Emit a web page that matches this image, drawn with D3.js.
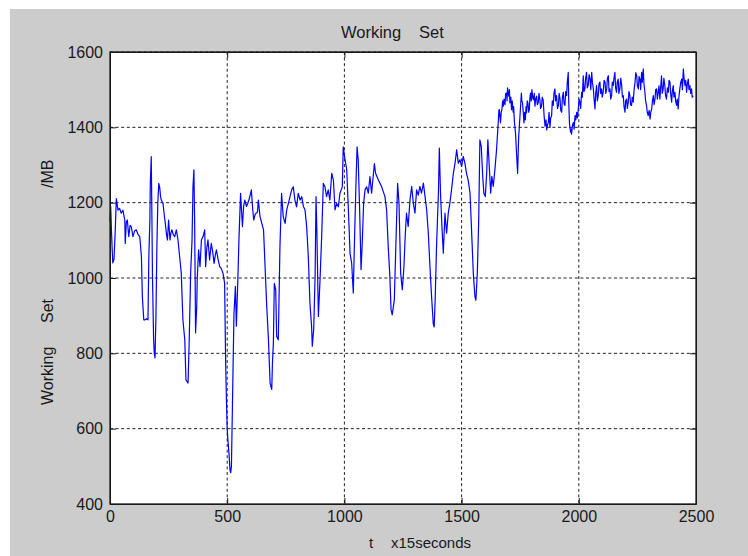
<!DOCTYPE html>
<html>
<head>
<meta charset="utf-8" />
<title>Working Set</title>
<script src="https://cdnjs.cloudflare.com/ajax/libs/d3/7.8.5/d3.min.js"></script>
<style>
  body { margin: 0; background: #ffffff; }
  text { font-family: "Liberation Sans", Arial, sans-serif; fill: #1a1a1a; }
  .axis path, .axis line { stroke: #1a1a1a; }
  .axis text { font-size: 16px; fill: #1a1a1a; font-family: "Liberation Sans", Arial, sans-serif; }
  .grid line { stroke: #222; stroke-dasharray: 3,2.6; stroke-width: 1; }
</style>
</head>
<body>
<div id="chart"></div>
<script>
// sample index (x15 seconds), first part: t = 0 .. 1649
var tEarly = [
  0,3,6,9,12,17,22,27,34,41,48,55,63,65,70,74,80,86,91,98,105,112,120,127,134,138,144,150,156,162,
  166,170,172,176,179,181,186,189,192,196,200,204,208,212,216,219,226,231,236,240,245,250,256,260,264,270,276,283,290,297,
  304,311,319,324,329,333,338,344,350,354,358,361,363,365,370,372,378,384,390,397,404,408,413,418,425,432,438,444,449,454,
  461,468,475,482,489,493,496,500,503,508,512,515,518,523,526,529,535,539,545,550,557,561,565,570,575,582,589,596,603,608,
  613,620,629,633,640,655,661,668,676,683,690,693,697,701,707,711,718,725,732,739,747,754,761,775,782,789,796,803,811,818,
  825,832,839,846,853,860,863,869,875,879,883,889,896,903,910,917,924,931,938,946,953,960,967,974,981,991,995,1003,1010,1017,
  1024,1031,1038,1042,1049,1054,1059,1065,1071,1076,1082,1088,1095,1102,1109,1116,1128,1133,1145,1159,1173,1180,1187,1194,1199,1204,1213,1219,1227,1233,
  1240,1247,1254,1260,1265,1272,1280,1287,1294,1301,1308,1315,1322,1329,1337,1344,1351,1358,1365,1372,1379,1383,1388,1393,1401,1405,1410,1416,1422,1429,
  1436,1443,1450,1457,1465,1472,1479,1486,1493,1500,1507,1514,1521,1528,1536,1543,1550,1557,1561,1567,1573,1578,1584,1590,1595,1601,1607,1612,1618,1624,
  1629,1635,1642,1649
];

// working set in MB, first part
var mbEarly = [
  1150,1190,1130,1080,1040,1050,1120,1211,1180,1185,1172,1180,1154,1092,1150,1154,1110,1140,1136,1110,1125,1128,1115,1110,1057,951,889,889,892,889,
  1066,1150,1251,1322,1150,1013,836,800,788,900,1083,1200,1251,1240,1215,1207,1198,1170,1145,1120,1101,1154,1101,1120,1128,1115,1110,1128,1101,1057,
  1013,889,836,730,725,721,836,1013,1101,1242,1287,1150,1013,854,924,995,1075,1030,1101,1110,1128,1030,1080,1101,1048,1092,1070,1039,1060,1075,
  1050,1030,1025,1013,986,792,695,600,571,530,490,483,500,686,800,907,978,872,986,1100,1225,1180,1136,1190,1207,1190,1200,1215,1234,1190,
  1154,1170,1175,1207,1163,1128,1039,933,836,721,704,774,827,986,969,845,836,1083,1225,1163,1145,1181,1198,1234,1242,1207,1189,1225,1207,1216,
  1190,1181,1136,1057,933,871,819,865,1004,1216,1110,898,995,1110,1251,1242,1216,1234,1207,1278,1260,1181,1198,1189,1225,1242,1348,1313,1287,1181,
  1066,1039,960,1075,1242,1348,1313,1181,1022,1092,1198,1234,1242,1225,1269,1225,1304,1278,1260,1242,1216,1181,1083,1004,916,902,942,1075,1251,1198,
  1013,969,1030,1119,1172,1137,1208,1243,1199,1172,1234,1220,1243,1225,1252,1216,1181,1119,1030,950,879,870,959,1083,1225,1345,1225,1137,1066,1172,
  1119,1172,1199,1234,1278,1305,1340,1305,1314,1296,1323,1305,1278,1260,1225,1119,1012,950,941,1012,1154,1367,1349,1270,1225,1216,1278,1367,1296,1225,
  1270,1243,1287,1340
];

// second part: t = 1657 .. 2488 (the dense band near the top)
var tLate = [
  1657,1659,1661,1664,1666,1669,1672,1675,1678,1681,1685,1688,1692,1694,1696,1699,1702,1704,1706,1710,
  1713,1716,1720,1722,1725,1730,1735,1739,1743,1746,1749,1752,1755,1757,1760,1763,1766,1769,1772,1775,
  1777,1780,1783,1786,1789,1791,1794,1797,1800,1803,1806,1810,1813,1816,1820,1823,1827,1830,1834,1837,
  1841,1844,1848,1852,1856,1860,1863,1866,
  1870,1873,1877,1880,1884,1887,1891,1894,1898,1901,1905,1909,1913,1916,1920,1923,1927,1930,1934,1937,
  1941,1944,1948,1951,1955,1957,1960,1962,1965,1967,1969,1973,1977,1980,1984,1987,1991,1994,1998,2001,
  2005,2008,2012,2015,2019,2022,2026,2029,2033,2036,2040,2044,2048,2051,2055,2058,2062,2065,2069,2072,
  2076,2079,2083,2086,2090,2093,2097,2100,2104,2108,2112,2115,2119,2122,2126,2129,2133,2136,2140,2143,
  2147,2150,2154,2157,2161,2164,2168,2171,2175,2179,2183,2186,2190,2193,2197,2200,2204,2207,2211,2214,
  2218,2221,2225,2228,2232,2236,2240,2243,2247,2250,2254,2257,2261,2264,2268,2271,2275,2278,2282,2285,
  2289,2292,2296,2300,2304,2307,2311,2314,2318,2321,2325,2328,2332,2335,2339,2342,2346,2349,2353,2356,
  2360,2363,2367,2370,2374,2378,2382,2385,2389,2392,2396,2399,2403,2406,2410,2413,2417,2420,2424,2427,
  2431,2435,2439,2442,2446,2449,2453,2456,2460,2463,2467,2470,2474,2477,2481,2484,2488
];

var mbLate = [
  1420,1445,1447,1425,1412,1440,1447,1470,1456,1475,1460,1490,1491,1470,1505,1490,1482,1500,1465,1480,
  1447,1470,1440,1455,1416,1385,1323,1278,1367,1400,1429,1460,1491,1470,1465,1440,1412,1440,1420,1455,
  1438,1470,1465,1440,1447,1475,1491,1470,1500,1480,1473,1490,1456,1475,1483,1460,1465,1490,1473,1450,
  1456,1480,1473,1430,1403,1420,1393,1405,
  1413,1440,1400,1425,1431,1470,1458,1490,1502,1470,1484,1450,1458,1490,1475,1445,1440,1480,1493,1462,
  1458,1495,1484,1520,1546,1470,1413,1400,1387,1395,1382,1405,1413,1395,1431,1420,1440,1425,1449,1475,
  1467,1450,1493,1480,1537,1495,1502,1530,1546,1505,1511,1540,1528,1500,1546,1520,1502,1475,1449,1490,
  1511,1470,1484,1515,1520,1490,1502,1480,1493,1525,1520,1490,1502,1530,1537,1495,1502,1475,1484,1520,
  1511,1530,1546,1505,1493,1520,1528,1490,1502,1530,1511,1480,1484,1455,1440,1470,1475,1450,1467,1495,
  1484,1460,1458,1480,1467,1500,1520,1545,1537,1510,1502,1535,1528,1500,1546,1520,1555,1515,1493,1470,
  1458,1440,1431,1445,1422,1440,1449,1470,1484,1460,1475,1500,1502,1475,1493,1510,1475,1505,1537,1490,
  1502,1530,1511,1485,1475,1505,1493,1525,1520,1490,1467,1495,1511,1480,1493,1470,1458,1475,1449,1480,
  1502,1520,1528,1500,1555,1530,1511,1525,1493,1515,1528,1500,1511,1490,1502,1480,1484
];

var xTicks = [0, 500, 1000, 1500, 2000, 2500];
var yTicks = [400, 600, 800, 1000, 1200, 1400, 1600];

var W = 748, H = 556;
var pL = 110, pT = 52, pR = 696, pB = 504;

var svg = d3.select('#chart').append('svg')
  .attr('width', W)
  .attr('height', H);

// figure background
svg.append('rect')
  .attr('x', 10).attr('y', 9)
  .attr('width', W - 10).attr('height', H - 9)
  .attr('fill', '#cccccc');

svg.append('rect')
  .attr('x', pL).attr('y', pT)
  .attr('width', pR - pL).attr('height', pB - pT)
  .attr('fill', '#ffffff');

var x = d3.scaleLinear().domain([0, 2500]).range([pL, pR]);
var y = d3.scaleLinear().domain([400, 1600]).range([pB, pT]);

// dotted grid
var grid = svg.append('g').attr('class', 'grid');
grid.selectAll('.gx')
  .data(xTicks.slice(1, -1))
  .enter().append('line')
  .attr('x1', d => x(d)).attr('x2', d => x(d))
  .attr('y1', pT).attr('y2', pB);
grid.selectAll('.gy')
  .data(yTicks.slice(1))
  .enter().append('line')
  .attr('x1', pL).attr('x2', pR)
  .attr('y1', d => y(d)).attr('y2', d => y(d));

var series = tEarly.map((t, i) => [t, mbEarly[i]])
  .concat(tLate.map((t, i) => [t, mbLate[i]]));

svg.append('path')
  .datum(series)
  .attr('fill', 'none')
  .attr('stroke', '#0000ff')
  .attr('stroke-width', 1.2)
  .attr('stroke-linejoin', 'round')
  .attr('d', d3.line().x(d => x(d[0])).y(d => y(d[1])));

// axes, ticks pointing inward like matlab
var fmt = d3.format('d');

svg.append('g')
  .attr('class', 'axis')
  .attr('transform', `translate(0,${pB})`)
  .call(d3.axisBottom(x).tickValues(xTicks).tickFormat(fmt).tickSize(-6).tickPadding(6).tickSizeOuter(0))
  .selectAll('text').attr('dy', '0.78em');

svg.append('g')
  .attr('class', 'axis')
  .attr('transform', `translate(0,${pT})`)
  .call(d3.axisTop(x).tickValues(xTicks).tickSize(-6).tickFormat('').tickSizeOuter(0));

svg.append('g')
  .attr('class', 'axis')
  .attr('transform', `translate(${pL},0)`)
  .call(d3.axisLeft(y).tickValues(yTicks).tickFormat(fmt).tickSize(-6).tickPadding(7).tickSizeOuter(0));

svg.append('g')
  .attr('class', 'axis')
  .attr('transform', `translate(${pR},0)`)
  .call(d3.axisRight(y).tickValues(yTicks).tickSize(-6).tickFormat('').tickSizeOuter(0));

svg.append('rect')
  .attr('x', pL).attr('y', pT)
  .attr('width', pR - pL).attr('height', pB - pT)
  .attr('fill', 'none')
  .attr('stroke', '#1a1a1a')
  .attr('stroke-width', 1.3);

// labels - words are spread out like in the original figure
var title = svg.append('text')
  .attr('y', 38)
  .style('font-size', '16.5px');
title.append('tspan').attr('x', 341).text('Working');
title.append('tspan').attr('x', 419).text('Set');

var xlab = svg.append('text')
  .attr('y', 548)
  .style('font-size', '15px');
xlab.append('tspan').attr('x', 369).text('t');
xlab.append('tspan').attr('x', 391).text('x15seconds');

var ylab = svg.append('text')
  .attr('transform', 'translate(53,0) rotate(-90)')
  .style('font-size', '16px');
ylab.append('tspan').attr('x', -405).text('Working');
ylab.append('tspan').attr('x', -323).text('Set');
ylab.append('tspan').attr('x', -188).text('/MB');
</script>
</body>
</html>
